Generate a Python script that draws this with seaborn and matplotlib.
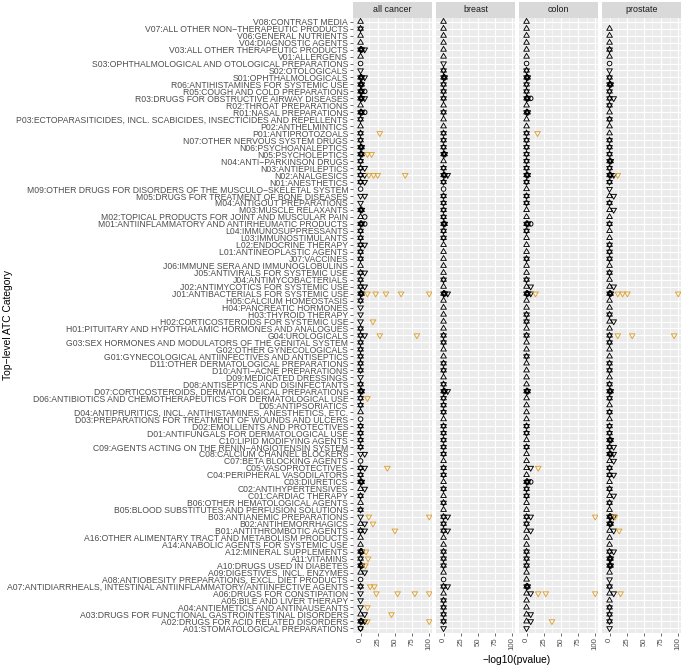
import numpy as np
import pandas as pd
import matplotlib
matplotlib.use("Agg")
import matplotlib.pyplot as plt
import seaborn as sns
from matplotlib.path import Path
from matplotlib.patches import Rectangle
from matplotlib.ticker import FixedLocator

# ---------------- data ----------------
categories = [
    "V08:CONTRAST MEDIA",
    "V07:ALL OTHER NON−THERAPEUTIC PRODUCTS",
    "V06:GENERAL NUTRIENTS",
    "V04:DIAGNOSTIC AGENTS",
    "V03:ALL OTHER THERAPEUTIC PRODUCTS",
    "V01:ALLERGENS",
    "S03:OPHTHALMOLOGICAL AND OTOLOGICAL PREPARATIONS",
    "S02:OTOLOGICALS",
    "S01:OPHTHALMOLOGICALS",
    "R06:ANTIHISTAMINES FOR SYSTEMIC USE",
    "R05:COUGH AND COLD PREPARATIONS",
    "R03:DRUGS FOR OBSTRUCTIVE AIRWAY DISEASES",
    "R02:THROAT PREPARATIONS",
    "R01:NASAL PREPARATIONS",
    "P03:ECTOPARASITICIDES, INCL. SCABICIDES, INSECTICIDES AND REPELLENTS",
    "P02:ANTHELMINTICS",
    "P01:ANTIPROTOZOALS",
    "N07:OTHER NERVOUS SYSTEM DRUGS",
    "N06:PSYCHOANALEPTICS",
    "N05:PSYCHOLEPTICS",
    "N04:ANTI−PARKINSON DRUGS",
    "N03:ANTIEPILEPTICS",
    "N02:ANALGESICS",
    "N01:ANESTHETICS",
    "M09:OTHER DRUGS FOR DISORDERS OF THE MUSCULO−SKELETAL SYSTEM",
    "M05:DRUGS FOR TREATMENT OF BONE DISEASES",
    "M04:ANTIGOUT PREPARATIONS",
    "M03:MUSCLE RELAXANTS",
    "M02:TOPICAL PRODUCTS FOR JOINT AND MUSCULAR PAIN",
    "M01:ANTIINFLAMMATORY AND ANTIRHEUMATIC PRODUCTS",
    "L04:IMMUNOSUPPRESSANTS",
    "L03:IMMUNOSTIMULANTS",
    "L02:ENDOCRINE THERAPY",
    "L01:ANTINEOPLASTIC AGENTS",
    "J07:VACCINES",
    "J06:IMMUNE SERA AND IMMUNOGLOBULINS",
    "J05:ANTIVIRALS FOR SYSTEMIC USE",
    "J04:ANTIMYCOBACTERIALS",
    "J02:ANTIMYCOTICS FOR SYSTEMIC USE",
    "J01:ANTIBACTERIALS FOR SYSTEMIC USE",
    "H05:CALCIUM HOMEOSTASIS",
    "H04:PANCREATIC HORMONES",
    "H03:THYROID THERAPY",
    "H02:CORTICOSTEROIDS FOR SYSTEMIC USE",
    "H01:PITUITARY AND HYPOTHALAMIC HORMONES AND ANALOGUES",
    "G04:UROLOGICALS",
    "G03:SEX HORMONES AND MODULATORS OF THE GENITAL SYSTEM",
    "G02:OTHER GYNECOLOGICALS",
    "G01:GYNECOLOGICAL ANTIINFECTIVES AND ANTISEPTICS",
    "D11:OTHER DERMATOLOGICAL PREPARATIONS",
    "D10:ANTI−ACNE PREPARATIONS",
    "D09:MEDICATED DRESSINGS",
    "D08:ANTISEPTICS AND DISINFECTANTS",
    "D07:CORTICOSTEROIDS, DERMATOLOGICAL PREPARATIONS",
    "D06:ANTIBIOTICS AND CHEMOTHERAPEUTICS FOR DERMATOLOGICAL USE",
    "D05:ANTIPSORIATICS",
    "D04:ANTIPRURITICS, INCL. ANTIHISTAMINES, ANESTHETICS, ETC.",
    "D03:PREPARATIONS FOR TREATMENT OF WOUNDS AND ULCERS",
    "D02:EMOLLIENTS AND PROTECTIVES",
    "D01:ANTIFUNGALS FOR DERMATOLOGICAL USE",
    "C10:LIPID MODIFYING AGENTS",
    "C09:AGENTS ACTING ON THE RENIN−ANGIOTENSIN SYSTEM",
    "C08:CALCIUM CHANNEL BLOCKERS",
    "C07:BETA BLOCKING AGENTS",
    "C05:VASOPROTECTIVES",
    "C04:PERIPHERAL VASODILATORS",
    "C03:DIURETICS",
    "C02:ANTIHYPERTENSIVES",
    "C01:CARDIAC THERAPY",
    "B06:OTHER HEMATOLOGICAL AGENTS",
    "B05:BLOOD SUBSTITUTES AND PERFUSION SOLUTIONS",
    "B03:ANTIANEMIC PREPARATIONS",
    "B02:ANTIHEMORRHAGICS",
    "B01:ANTITHROMBOTIC AGENTS",
    "A16:OTHER ALIMENTARY TRACT AND METABOLISM PRODUCTS",
    "A14:ANABOLIC AGENTS FOR SYSTEMIC USE",
    "A12:MINERAL SUPPLEMENTS",
    "A11:VITAMINS",
    "A10:DRUGS USED IN DIABETES",
    "A09:DIGESTIVES, INCL. ENZYMES",
    "A08:ANTIOBESITY PREPARATIONS, EXCL. DIET PRODUCTS",
    "A07:ANTIDIARRHEALS, INTESTINAL ANTIINFLAMMATORY/ANTIINFECTIVE AGENTS",
    "A06:DRUGS FOR CONSTIPATION",
    "A05:BILE AND LIVER THERAPY",
    "A04:ANTIEMETICS AND ANTINAUSEANTS",
    "A03:DRUGS FOR FUNCTIONAL GASTROINTESTINAL DISORDERS",
    "A02:DRUGS FOR ACID RELATED DISORDERS",
    "A01:STOMATOLOGICAL PREPARATIONS",
]

facets = ["all cancer", "breast", "colon", "prostate"]

# Non-significant (black) markers seen in each row, top to bottom.
# u = up triangle near 0, d = down triangle near 0, b = both (star),
# B = several overlapping up/down, D = extra down triangle a little right,
# o = circle near 0, O = circle a little right, - = nothing
black_all = (
    "u b u u BD u "            # V
    "o d BD "                  # S
    "B BO BD u BO "            # R
    "b u b "                   # P
    "b B B b bD bD bD "        # N
    "o dD d B uO BO "          # M
    "b b bD b "                # L
    "b u bD b bD B "           # J
    "b d d d b "               # H
    "bD b b b "                # G
    "b b d b B b b u o b b "   # D
    "b b dD o bD b B uD b "    # C
    "u b d uD bD "             # B
    "u u B b B uD o b d d d uD BD do"  # A
).split()
black_breast = (
    "u u u u u u "
    "d b B "
    "b b b u b "
    "u u b "
    "b b B u b BD b "
    "o b b b b B "
    "b b u u "
    "u u u b u BD "
    "u u u u u "
    "b b u u "
    "b b u b BD b b b u b b "
    "b b b u b b u b u "
    "b u bD b bD "
    "u u b b b u o bD u b b b b d"
).split()
black_colon = (
    "u u u u u u "
    "o b B "
    "b b BO u B "
    "u u b "
    "b b b b b B b "
    "u b b u u BO "
    "b u u u "
    "b u u b uD BD "
    "u u b b u "
    "b u u b "
    "u u u u B u u u u b b "
    "u b u u uD u BO b b "
    "u u bD b uD "
    "u u b b b u u B uD u u uD uD d"
).split()
black_prostate = (
    "- u u u b u "
    "o d b "
    "B b bD b u "
    "b u u "
    "b b b B b BD b "
    "d uD b uD u b "
    "u u b b "
    "b u b u uD B "
    "u u b uD u "
    "b b u u "
    "b b u b B b u b u b b "
    "B bD BD uD b bD u b uD "
    "b u BD B uD "
    "u u bD B B u d b uD u b b b d"
).split()

# Significant (orange) points: ATC code -> -log10(pvalue)
orange_all = {
    "P01": [28], "N05": [10, 16], "N02": [12, 19, 25, 65],
    "J01": [10, 22, 37, 59, 100], "H02": [18], "G04": [28, 82],
    "D06": [10], "C05": [39], "B03": [12, 100], "B02": [18],
    "B01": [50], "A12": [8], "A11": [11], "A10": [7],
    "A07": [14, 20], "A06": [23, 54, 79, 100], "A04": [10],
    "A03": [45], "A02": [10, 100],
}
orange_breast = {}
orange_colon = {
    "P01": [16], "J01": [13], "C05": [17], "B03": [100],
    "A06": [17, 28, 100], "A02": [37],
}
orange_prostate = {
    "N02": [12], "J01": [12, 19, 26, 100], "G04": [12, 33, 94],
    "B03": [8], "B01": [14], "A06": [16],
}

x_ticks = [0, 25, 50, 75, 100]

# estimated positions of the glyphs listed above
glyph_points = {
    "u": [("up", 0.0)],
    "d": [("down", 0.0)],
    "b": [("up", 0.0), ("down", 0.0)],
    "B": [("up", 0.0), ("down", 0.0), ("up", 1.5), ("down", 1.8)],
    "D": [("down", 6.0)],
    "o": [("circle", 0.0)],
    "O": [("circle", 6.0)],
    "-": [],
}

# ---------------- build table ----------------
black_by_facet = dict(zip(facets, [black_all, black_breast, black_colon, black_prostate]))
orange_by_facet = dict(zip(facets, [orange_all, orange_breast, orange_colon, orange_prostate]))
code_to_pos = {c.split(":")[0]: i for i, c in enumerate(categories)}

rows = []
for f in facets:
    codes = black_by_facet[f]
    assert len(codes) == len(categories), (f, len(codes))
    for i, code in enumerate(codes):
        for ch in code:
            for shape, val in glyph_points[ch]:
                rows.append(dict(facet=f, pos=i, category=categories[i],
                                 value=val, shape=shape, sig=False))
    for atc, vals in orange_by_facet[f].items():
        for v in vals:
            rows.append(dict(facet=f, pos=code_to_pos[atc], category=categories[code_to_pos[atc]],
                             value=v, shape="down", sig=True))
df = pd.DataFrame(rows)

# ---------------- plot ----------------
sns.set_theme(style="darkgrid")
plt.rcParams["font.family"] = ["Liberation Sans", "DejaVu Sans"]

ORANGE = "#DDA334"
tri_up = Path([(0, 1), (-0.866, -0.5), (0.866, -0.5), (0, 1)],
              [Path.MOVETO, Path.LINETO, Path.LINETO, Path.CLOSEPOLY])
tri_dn = Path([(0, -1), (-0.866, 0.5), (0.866, 0.5), (0, -1)],
              [Path.MOVETO, Path.LINETO, Path.LINETO, Path.CLOSEPOLY])
markers = {"up": tri_up, "down": tri_dn, "circle": "o"}
sizes = {"up": 22, "down": 22, "circle": 11}


def draw(data, **kws):
    ax = plt.gca()
    for (shape, sig), sub in data.groupby(["shape", "sig"]):
        ax.scatter(sub["value"], sub["pos"], marker=markers[shape], s=sizes[shape],
                   facecolors="none", edgecolors=ORANGE if sig else "black",
                   linewidths=0.65, zorder=3 + int(sig))


g = sns.FacetGrid(df, col="facet", col_order=facets, sharex=True, sharey=True,
                  height=6, aspect=0.2, despine=False)
g.map_dataframe(draw)

fig = g.figure
fig.set_size_inches(6.85, 6.69)
fig.set_dpi(100)
W, H = 685, 669
left_px, right_px, top_px, bot_px = 353, 681, 17.5, 632.5
gap = 4.0
panel_w = (right_px - left_px - 3 * gap) / 4
fig.subplots_adjust(left=left_px / W, right=right_px / W,
                    top=1 - top_px / H, bottom=1 - bot_px / H,
                    wspace=gap / panel_w)

n = len(categories)
strip_h = 15 / (bot_px - top_px)
for k, ax in enumerate(g.axes.flat):
    ax.set_facecolor("#EBEBEB")
    ax.set_xlim(-11, 104)
    ax.set_ylim(n - 1 + 0.6, -0.6)
    ax.set_xticks(x_ticks)
    ax.set_xticklabels([str(t) for t in x_ticks])
    ax.xaxis.set_minor_locator(FixedLocator([12.5, 37.5, 62.5, 87.5]))
    ax.set_yticks(range(n))
    ax.grid(which="major", color="white", linewidth=0.8)
    ax.grid(which="minor", axis="x", color="white", linewidth=0.4)
    ax.set_axisbelow(True)
    for s in ax.spines.values():
        s.set_visible(False)
    ax.tick_params(axis="both", which="major", length=2.5, width=0.5,
                   color="#333333", labelcolor="#4D4D4D", bottom=True, left=True)
    ax.tick_params(axis="x", which="minor", length=0)
    ax.tick_params(axis="x", labelsize=5.6, pad=1.0, labelrotation=90)
    ax.set_xlabel("")
    ax.set_ylabel("")
    ax.set_title("")
    if k == 0:
        ax.set_yticklabels(categories)
        ax.tick_params(axis="y", labelsize=6.2, pad=1.0)
    else:
        ax.tick_params(axis="y", labelleft=False, length=0)
    ax.add_patch(Rectangle((0, 1), 1, strip_h, transform=ax.transAxes,
                           facecolor="#D9D9D9", edgecolor="none", clip_on=False))
    ax.text(0.5, 1 + strip_h / 2, facets[k], transform=ax.transAxes,
            ha="center", va="center", fontsize=6.4, color="#1A1A1A")

fig.text(517 / W, 1 - 660 / H, "−log10(pvalue)", ha="center", va="center",
         fontsize=7.4, color="black")
fig.text(8 / W, 1 - 325 / H, "Top−level ATC Category", ha="center", va="center",
         rotation=90, fontsize=7.4, color="black")

fig.savefig("out.png", dpi=100)
